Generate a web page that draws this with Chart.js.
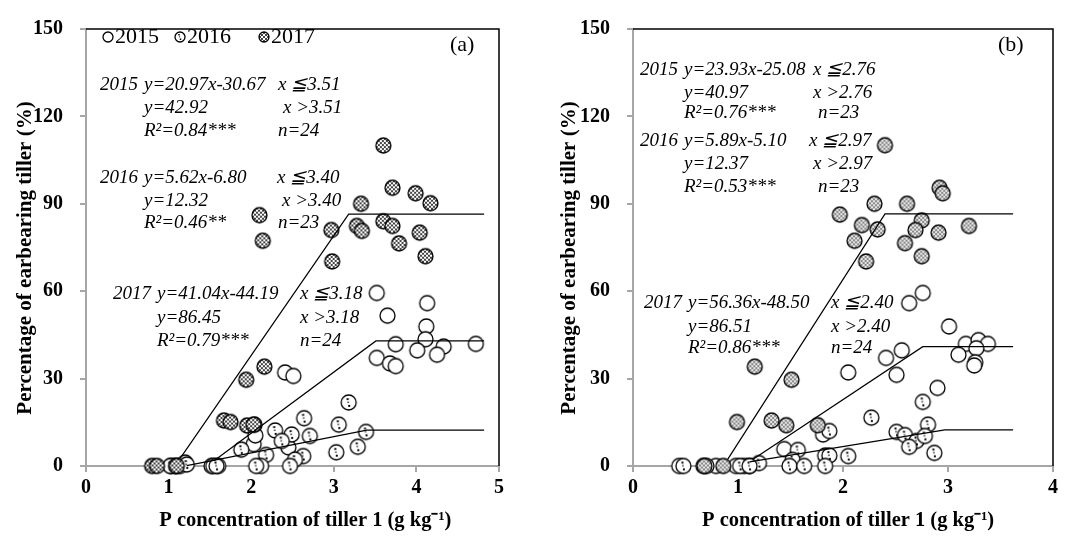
<!DOCTYPE html>
<html>
<head>
<meta charset="utf-8">
<script src="https://cdn.jsdelivr.net/npm/chart.js@4.4.1/dist/chart.umd.min.js"></script>
<style>
  html, body { margin: 0; padding: 0; background: #fff; }
  .panel { position: absolute; top: 0; width: 536px; height: 537px; }
  #wrapA { left: 0; }
  #wrapB { left: 536px; }
</style>
</head>
<body>
<div class="panel" id="wrapA"><canvas id="chartA" width="536" height="537"></canvas></div>
<div class="panel" id="wrapB"><canvas id="chartB" width="536" height="537"></canvas></div>
<script>
const serif = "'Liberation Serif', 'Times New Roman', serif";

// Ticks
const yTickValues = [0, 30, 60, 90, 120, 150];
const xTickValuesA = [0, 1, 2, 3, 4, 5];
const xTickValuesB = [0, 1, 2, 3, 4];
const seriesNames = ['2015', '2016', '2017'];

// Painel (a) - pontos [x, y]
const a2015 = [[3.52, 59.4], [4.13, 55.9], [3.65, 51.6], [4.12, 47.9], [4.11, 43.5], [4.01, 39.7],
  [3.75, 41.8], [4.33, 41.0], [4.25, 38.2], [4.72, 41.9], [3.52, 37.1], [3.68, 35.2], [3.75, 34.3],
  [2.41, 32.1], [2.51, 30.9], [2.03, 7.5], [2.05, 10.5], [2.45, 6.4], [1.03, 0], [1.08, 0],
  [1.14, 0], [1.20, 1.2], [1.52, 0], [1.60, 0]];
const a2016 = [[3.18, 21.8], [2.64, 16.4], [3.06, 14.2], [3.39, 11.7], [2.29, 12.2], [2.49, 10.8],
  [2.71, 10.3], [2.37, 8.6], [3.29, 6.6], [3.03, 4.7], [2.63, 3.4], [2.53, 2.2], [2.47, 0],
  [2.18, 3.8], [2.12, 0], [2.06, 0], [1.88, 5.6], [2.04, 14.2], [1.02, 0], [1.09, 0],
  [1.22, 0.5], [1.54, 0], [1.58, 0]];
const a2017 = [[3.60, 110.0], [3.71, 95.5], [3.99, 93.6], [4.17, 90.2], [3.33, 90.0], [2.10, 86.1],
  [2.97, 81.0], [3.28, 82.4], [3.34, 80.7], [3.60, 84.0], [3.71, 82.4], [4.04, 80.1], [3.79, 76.4],
  [4.11, 72.0], [2.14, 77.3], [2.98, 70.2], [2.16, 34.1], [1.94, 29.6], [1.67, 15.6], [1.75, 15.1],
  [1.95, 13.9], [2.03, 14.2], [0.80, 0], [0.86, 0], [1.10, 0]];
// Painel (a) - retas ajustadas
const aFit2015 = [[1.55, 1.8], [3.51, 42.92], [4.82, 42.92]];
const aFit2016 = [[1.22, 0.1], [3.40, 12.32], [4.82, 12.32]];
const aFit2017 = [[1.14, 2.6], [3.18, 86.45], [4.82, 86.45]];

// Painel (b) - pontos [x, y]
const b2015 = [[2.76, 59.4], [2.63, 55.9], [3.01, 47.9], [2.56, 39.7], [2.41, 37.1], [2.51, 31.3],
  [2.05, 32.1], [3.17, 41.9], [3.29, 43.2], [3.38, 41.9], [3.27, 40.4], [3.10, 38.2], [3.26, 35.6],
  [3.25, 34.5], [2.90, 26.8], [1.44, 5.8], [1.81, 10.8], [1.83, 3.6], [0.67, 0], [0.79, 0],
  [0.98, 0], [1.06, 0], [1.11, 0]];
const b2016 = [[2.76, 22.0], [2.27, 16.6], [2.81, 14.2], [1.87, 12.0], [2.51, 11.7], [2.59, 10.6],
  [2.70, 8.6], [2.78, 10.3], [2.63, 6.6], [2.87, 4.5], [1.87, 3.6], [2.05, 3.4], [1.57, 5.5],
  [1.52, 2.1], [1.49, 0], [1.63, 0], [1.83, 0], [1.20, 1.0], [0.44, 0], [0.48, 0], [0.70, 0],
  [1.02, 0], [1.11, 0]];
const b2017 = [[2.40, 110.1], [2.92, 95.5], [2.95, 93.6], [2.30, 90.0], [2.61, 90.0], [1.97, 86.3],
  [2.18, 82.7], [2.33, 81.2], [2.75, 84.3], [2.69, 81.0], [2.91, 80.1], [3.20, 82.4], [2.11, 77.3],
  [2.59, 76.5], [2.75, 72.0], [2.22, 70.2], [1.16, 34.1], [1.51, 29.6], [0.99, 15.1], [1.32, 15.6],
  [1.46, 14.0], [1.76, 14.0], [0.68, 0], [0.86, 0]];
// Painel (b) - retas ajustadas
const bFit2015 = [[1.14, 2.2], [2.76, 40.97], [3.62, 40.97]];
const bFit2016 = [[1.11, 1.4], [2.97, 12.37], [3.62, 12.37]];
const bFit2017 = [[0.90, 2.2], [2.40, 86.51], [3.62, 86.51]];

// Marcadores desenhados em canvas
function checkPattern(dark, light) {
    const p = document.createElement('canvas');
    p.width = p.height = 4;
    const c = p.getContext('2d');
    c.fillStyle = light;
    c.fillRect(0, 0, 4, 4);
    c.fillStyle = dark;
    c.fillRect(0, 0, 2, 2);
    c.fillRect(2, 2, 2, 2);
    return p;
}

function makeMarker(kind, r, pat) {
    const size = Math.ceil(2 * r + 4);
    const cv = document.createElement('canvas');
    cv.width = cv.height = size;
    const c = cv.getContext('2d');
    const m = size / 2;
    c.beginPath();
    c.arc(m, m, r, 0, 2 * Math.PI);
    c.fillStyle = kind === 'check' ? c.createPattern(checkPattern(pat[0], pat[1]), 'repeat') : '#fff';
    c.fill();
    if (kind === 'dot') {
        c.fillStyle = '#000';
        const d = Math.max(1.5, r * 0.26);
        c.fillRect(m - 1 - d / 2, m - r * 0.45 - d / 2, d, d);
        c.fillRect(m + 0.5 - d / 2, m + r * 0.45 - d / 2, d, d);
        c.fillStyle = '#444';
        c.fillRect(m - 0.3 - d / 2, m - d / 2, d * 0.8, d * 0.8);
    }
    c.lineWidth = 1.3;
    c.strokeStyle = '#000';
    c.stroke();
    return cv;
}

const pts = list => list.map(p => ({ x: p[0], y: p[1] }));

function fitSet(list) {
    return {
        data: pts(list), showLine: true, borderColor: '#000', borderWidth: 1.2,
        pointRadius: 0, pointHoverRadius: 0, clip: false, order: 0
    };
}

function markerSet(label, list, style, order) {
    return { label: label, data: pts(list), pointStyle: style, pointRadius: 8, clip: false, order: order };
}

// Textos das equações, rótulo do painel, moldura e legenda
const framePlugin = {
    id: 'frame',
    beforeDatasetsDraw(chart, args, opts) {
        const ctx = chart.ctx;
        ctx.save();
        ctx.fillStyle = '#000';
        ctx.textBaseline = 'middle';
        ctx.textAlign = 'left';
        ctx.font = 'italic 19px ' + serif;
        (opts.notes || []).forEach(n => ctx.fillText(n[0], n[1], n[2]));
        ctx.font = '22px ' + serif;
        if (opts.tag) ctx.fillText(opts.tag[0], opts.tag[1], opts.tag[2]);
        if (opts.legend) {
            const lg = opts.legend;
            seriesNames.forEach((name, i) => {
                const icon = lg.icons[i];
                ctx.drawImage(icon, lg.x[i] - icon.width / 2, lg.y - icon.height / 2);
                ctx.fillText(name, lg.x[i] + lg.dx, lg.y);
            });
        }
        ctx.restore();
    },
    afterDraw(chart) {
        const { ctx, chartArea: a } = chart;
        ctx.save();
        ctx.strokeStyle = '#000';
        ctx.lineWidth = 1.5;
        ctx.beginPath();
        ctx.moveTo(a.left, a.top);
        ctx.lineTo(a.right, a.top);
        ctx.lineTo(a.right, a.bottom);
        ctx.stroke();
        ctx.restore();
    }
};

function makeScales(cfg) {
    const tickFont = { family: serif, size: 20, weight: 'bold' };
    const grid = { display: true, drawOnChartArea: false, drawTicks: true, tickLength: 6, color: '#a6a6a6', lineWidth: 2 };
    return {
        x: {
            type: 'linear', min: cfg.xTicks[0], max: cfg.xTicks[cfg.xTicks.length - 1],
            afterBuildTicks: s => { s.ticks = cfg.xTicks.map(v => ({ value: v })); },
            grid: grid, border: { color: '#a6a6a6', width: 2 },
            ticks: { font: tickFont, color: '#000', padding: 4, maxRotation: 0 },
            // espaços à esquerda deslocam o título um pouco para a direita, como no original
            title: { display: true, text: cfg.xLead + 'P concentration of tiller 1 (g kg\u207B\u00B9)',
                font: { family: serif, size: 20.5, weight: 'bold' }, color: '#000', padding: { top: 0, bottom: 4 } },
            afterFit: s => { s.height = 71; }
        },
        y: {
            type: 'linear', min: yTickValues[0], max: yTickValues[yTickValues.length - 1],
            afterBuildTicks: s => { s.ticks = yTickValues.map(v => ({ value: v })); },
            grid: grid, border: { color: '#a6a6a6', width: 2 },
            ticks: { font: tickFont, color: '#000', padding: 17 },
            title: { display: true, text: 'Percentage of earbearing tiller (%)    ',
                font: { family: serif, size: 21, weight: 'bold' }, color: '#000', padding: { top: cfg.yTitlePad, bottom: 0 } },
            afterFit: s => { s.width = cfg.yWidth; }
        }
    };
}

function buildChart(id, cfg) {
    const icons = [makeMarker('open', 7.5), makeMarker('dot', 7.5), makeMarker('check', 7.5, cfg.pattern)];
    const small = [makeMarker('open', 5), makeMarker('dot', 5), makeMarker('check', 5, cfg.pattern)];
    const frameOpts = { notes: cfg.notes, tag: cfg.tag };
    if (cfg.showLegend) frameOpts.legend = { icons: small, x: [108, 180, 264], y: 37, dx: 7 };
    return new Chart(document.getElementById(id), {
        type: 'scatter',
        data: {
            datasets: [
                fitSet(cfg.fits[0]), fitSet(cfg.fits[1]), fitSet(cfg.fits[2]),
                markerSet(seriesNames[2], cfg.points[2], icons[2], 1),
                markerSet(seriesNames[1], cfg.points[1], icons[1], 2),
                markerSet(seriesNames[0], cfg.points[0], icons[0], 3)
            ]
        },
        options: {
            responsive: false,
            animation: false,
            events: [],
            devicePixelRatio: 1,
            layout: { padding: cfg.padding },
            scales: makeScales(cfg),
            plugins: {
                legend: { display: false },
                tooltip: { enabled: false },
                frame: frameOpts
            }
        },
        plugins: [framePlugin]
    });
}

window.addEventListener('DOMContentLoaded', function() {
    buildChart('chartA', {
        points: [a2015, a2016, a2017],
        fits: [aFit2015, aFit2016, aFit2017],
        xTicks: xTickValuesA,
        xLead: '     ',
        yWidth: 86, yTitlePad: 13,
        padding: { left: 0, right: 37, top: 18, bottom: 0 },
        pattern: ['#444', '#fff'],
        showLegend: true,
        tag: ['(a)', 450, 45],
        notes: [
            ['2015', 100, 85], ['y=20.97x-30.67', 144, 85], ['x \u22663.51', 278, 85],
            ['y=42.92', 144, 108], ['x >3.51', 283, 108],
            ['R\u00B2=0.84***', 144, 131], ['n=24', 278, 131],
            ['2016', 100, 178], ['y=5.62x-6.80', 144, 178], ['x \u22663.40', 277, 178],
            ['y=12.32', 144, 201], ['x >3.40', 282, 201],
            ['R\u00B2=0.46**', 144, 223], ['n=23', 278, 223],
            ['2017', 113, 294], ['y=41.04x-44.19', 157, 294], ['x \u22663.18', 300, 294],
            ['y=86.45', 157, 318], ['x >3.18', 300, 318],
            ['R\u00B2=0.79***', 157, 341], ['n=24', 300, 341]
        ]
    });

    buildChart('chartB', {
        points: [b2015, b2016, b2017],
        fits: [bFit2015, bFit2016, bFit2017],
        xTicks: xTickValuesB,
        xLead: '  ',
        yWidth: 97, yTitlePad: 21,
        padding: { left: 0, right: 19, top: 19, bottom: 0 },
        pattern: ['#8a8a8a', '#e6e6e6'],
        showLegend: false,
        tag: ['(b)', 462, 45],
        notes: [
            ['2015', 104, 70], ['y=23.93x-25.08', 148, 70], ['x \u22662.76', 277, 70],
            ['y=40.97', 148, 93], ['x >2.76', 277, 93],
            ['R\u00B2=0.76***', 148, 113], ['n=23', 282, 113],
            ['2016', 104, 141], ['y=5.89x-5.10', 148, 141], ['x \u22662.97', 273, 141],
            ['y=12.37', 148, 164], ['x >2.97', 277, 164],
            ['R\u00B2=0.53***', 148, 187], ['n=23', 282, 187],
            ['2017', 108, 303], ['y=56.36x-48.50', 152, 303], ['x \u22662.40', 295, 303],
            ['y=86.51', 152, 327], ['x >2.40', 295, 327],
            ['R\u00B2=0.86***', 152, 348], ['n=24', 295, 348]
        ]
    });
});
</script>
</body>
</html>
